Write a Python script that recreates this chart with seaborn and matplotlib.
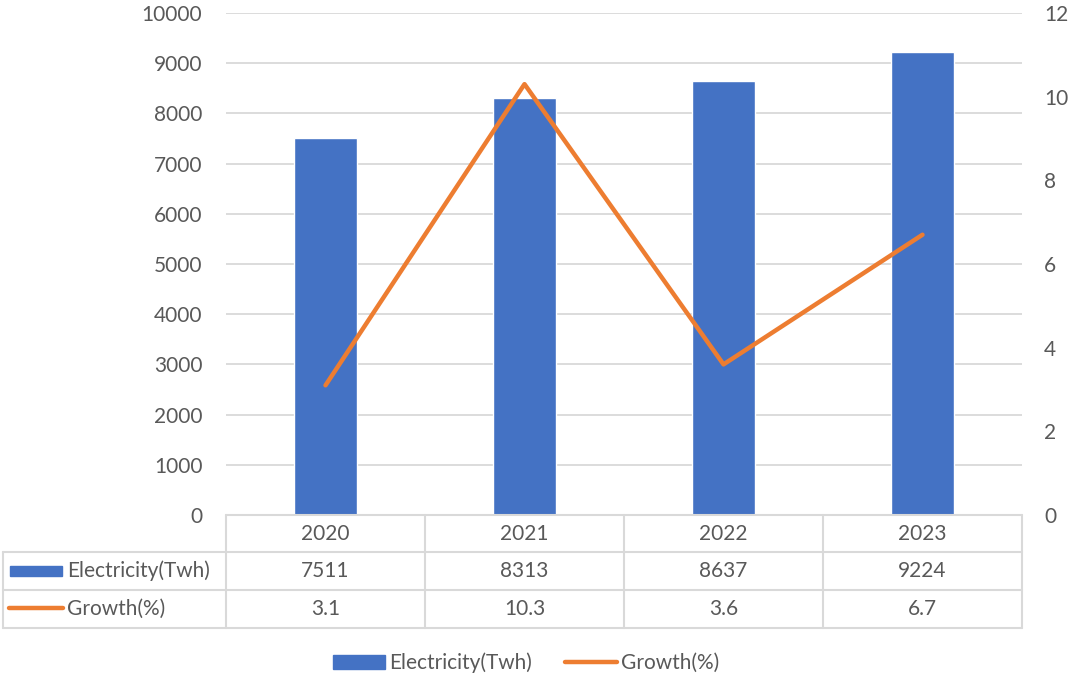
import numpy as np
import pandas as pd
import matplotlib
matplotlib.use("Agg")
import matplotlib.pyplot as plt
from matplotlib.lines import Line2D
from matplotlib.patches import Rectangle
import seaborn as sns

years = ["2020", "2021", "2022", "2023"]
electricity = [7511, 8313, 8637, 9224]
growth = [3.1, 10.3, 3.6, 6.7]
elec_label = "Electricity(Twh)"
growth_label = "Growth(%)"

BLUE = "#4472C4"
ORANGE = "#ED7D31"
TEXT = "#595959"
GRID = "#D9D9D9"
FS = 15

sns.set_theme(style="white")
plt.rcParams["font.family"] = ["Lato", "DejaVu Sans"]

W, H = 1071, 677
fig = plt.figure(figsize=(W / 100, H / 100), dpi=100)

# plot area in pixels
L, R, T, B = 226, 1022, 13, 515
ax = fig.add_axes([L / W, 1 - B / H, (R - L) / W, (B - T) / H])

df = pd.DataFrame({"year": years, "electricity": electricity, "growth": growth})
sns.barplot(data=df, x="year", y="electricity", color=BLUE, width=0.315,
            saturation=1, ax=ax)
ax.set_xlim(-0.5, len(years) - 0.5)
ax.set_ylim(0, 10000)
ax.set_yticks(np.arange(0, 10001, 1000))
ax.yaxis.grid(True, color=GRID, linewidth=1.3)
ax.set_axisbelow(True)
ax.set_xlabel("")
ax.set_ylabel("")
ax.set_xticks([])
for s in ax.spines.values():
    s.set_visible(False)
ax.tick_params(axis="y", length=0, pad=17, labelsize=FS, labelcolor=TEXT)

ax2 = ax.twinx()
sns.lineplot(x=np.arange(len(years)), y=growth, color=ORANGE, linewidth=3.2,
             ax=ax2, solid_capstyle="round")
ax2.set_ylim(0, 12)
ax2.set_yticks(np.arange(0, 13, 2))
ax2.set_xlim(-0.5, len(years) - 0.5)
ax2.grid(False)
for s in ax2.spines.values():
    s.set_visible(False)
ax2.tick_params(axis="y", length=0, pad=16, labelsize=FS, labelcolor=TEXT)

# data table beneath the plot
def fx(px):
    return px / W

def fy(py):
    return 1 - py / H

rows = [515, 552, 590, 628]
cols = [L + i * (R - L) / len(years) for i in range(len(years) + 1)]
left_edge = 3
lw = 1.5
tr = fig.transFigure
fig.add_artist(Line2D([fx(L), fx(R)], [fy(rows[0])] * 2, color=GRID, lw=lw, transform=tr))
for r in rows[1:]:
    fig.add_artist(Line2D([fx(left_edge), fx(R)], [fy(r)] * 2, color=GRID, lw=lw, transform=tr))
for c in cols:
    fig.add_artist(Line2D([fx(c)] * 2, [fy(rows[0]), fy(rows[-1])], color=GRID, lw=lw, transform=tr))
fig.add_artist(Line2D([fx(left_edge)] * 2, [fy(rows[1]), fy(rows[-1])], color=GRID, lw=lw, transform=tr))

def cell_y(i):
    return fy((rows[i] + rows[i + 1]) / 2)

for j, yr in enumerate(years):
    cx = fx((cols[j] + cols[j + 1]) / 2)
    fig.text(cx, cell_y(0), yr, ha="center", va="center", fontsize=FS, color=TEXT)
    fig.text(cx, cell_y(1), f"{electricity[j]}", ha="center", va="center", fontsize=FS, color=TEXT)
    fig.text(cx, cell_y(2), f"{growth[j]}", ha="center", va="center", fontsize=FS, color=TEXT)

# row headers with legend keys
fig.add_artist(Rectangle((fx(10), fy(576)), fx(62) - fx(10), fy(566) - fy(576),
                         color=BLUE, transform=tr))
fig.text(fx(67), cell_y(1), elec_label, ha="left", va="center", fontsize=FS, color=TEXT)
fig.add_artist(Line2D([fx(9), fx(63)], [fy(608)] * 2, color=ORANGE, lw=3.2,
                      solid_capstyle="round", transform=tr))
fig.text(fx(67), cell_y(2), growth_label, ha="left", va="center", fontsize=FS, color=TEXT)

# legend
handles = [Rectangle((0, 0), 1, 1, color=BLUE),
           Line2D([0], [0], color=ORANGE, lw=3.2, solid_capstyle="round")]
fig.legend(handles, [elec_label, growth_label], loc="center",
           bbox_to_anchor=(526 / W, fy(663)), ncol=2, frameon=False,
           fontsize=FS, labelcolor=TEXT, handlelength=2.5, handleheight=0.6,
           handletextpad=0.2, columnspacing=1.6)

fig.savefig("out.png", dpi=100, facecolor="white")
